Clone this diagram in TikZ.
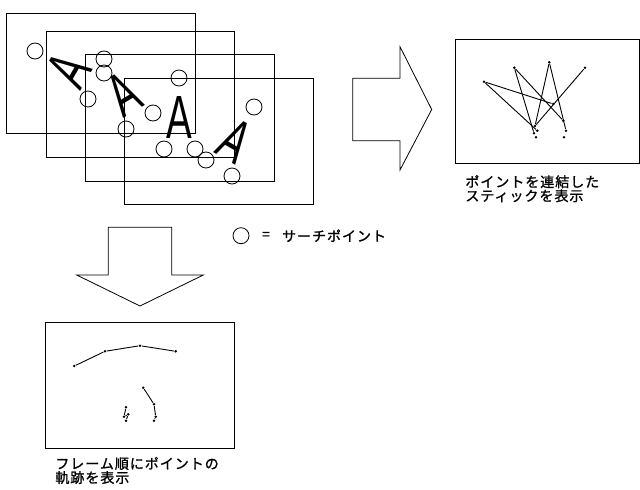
\documentclass[tikz,border=0pt]{standalone}
\usepackage{fontspec}
\newfontfamily\jpfont[LetterSpace=7, FakeBold=1.2]{Noto Sans CJK JP}
\newfontfamily\letterfont{Liberation Sans}
\begin{document}
\begin{tikzpicture}[x=1pt, y=-1pt, line width=0.8pt, line join=miter,
  searchpt/.style={draw, circle, minimum size=16pt, inner sep=0pt},
  letterA/.style={inner sep=0pt, xscale=0.63, font=\letterfont\fontsize{61}{61}\selectfont},
  joint/.style={fill, circle, inner sep=0pt, minimum size=2.8pt},
  stick/.style={line width=0.9pt},
  caption/.style={font=\jpfont\fontsize{14}{14}\selectfont, align=left, inner sep=0pt}]
\useasboundingbox (0,0) rectangle (640,490);
% frames
\draw (6,13) rectangle (195,133);
\draw (46,31) rectangle (234,157);
\draw (85,54) rectangle (274,181);
\draw (124,78) rectangle (313,204);
% letters
\node[rotate=60, letterA] (A1) at (69.2,70.4) {A};
\node[rotate=31, letterA] (A2) at (123.8,93.8) {A};
\node[letterA] (A3) at (179.5,118) {A};
\node[rotate=-30, letterA] (A4) at (234.6,141) {A};
% search points
\node[searchpt] (s1) at (35,51) {};
\node[searchpt] (s2) at (104,59) {};
\node[searchpt] (s3) at (104,73) {};
\node[searchpt] (s4) at (88,99) {};
\node[searchpt] (s5) at (179,78) {};
\node[searchpt] (s6) at (153,113) {};
\node[searchpt] (s7) at (126,129) {};
\node[searchpt] (s8) at (254,107) {};
\node[searchpt] (s9) at (164,149) {};
\node[searchpt] (s10) at (195,149) {};
\node[searchpt] (s11) at (206,160) {};
\node[searchpt] (s12) at (232,176) {};
% arrow right
\draw (352.7,78.3) -- (400,78.3) -- (400,46.7) -- (431.7,109.5) -- (400,170)
  -- (400,140.7) -- (352.7,140.7) -- cycle;
% arrow down
\draw (108.3,227.3) -- (171.7,227.3) -- (171.7,275) -- (203.3,275) -- (140,306)
  -- (76.7,275) -- (108.3,275) -- cycle;
% stick box
\draw (455,39.5) rectangle (639.5,163.5);
\node[joint] (a) at (484,81.7) {};
\node[joint] (b) at (514.3,67.7) {};
\node[joint] (c) at (549.3,62.3) {};
\node[joint] (d) at (585,67.7) {};
\node[joint] (e) at (553.3,104) {};
\node[joint] (l1) at (535,126) {};
\node[joint] (l2) at (537.3,130.7) {};
\node[joint] (l3) at (534,133.3) {};
\node[joint] (l4) at (536,137.3) {};
\node[joint] (r1) at (563.3,120.7) {};
\node[joint] (r2) at (566,130.7) {};
\node[joint] (r3) at (564,137.3) {};
\draw[stick] (a) -- (e);
\draw[stick] (a) -- (l2);
\draw[stick] (b) -- (l3);
\draw[stick] (b) -- (r1);
\draw[stick] (c) -- (l1);
\draw[stick] (c) -- (r2);
\draw[stick] (d) -- (l1);
\node[caption, anchor=west] (cap1) at (465,188.7) {ポイントを連結した\\スティックを表示};
% trace box
\draw (45.7,322.7) rectangle (234,448);
\node[joint] (t1) at (74.3,366) {};
\node[joint] (t2) at (105,351.3) {};
\node[joint] (t3) at (140,345.7) {};
\node[joint] (t4) at (175.7,351.3) {};
\node[joint] (u1) at (143.3,387.7) {};
\node[joint] (u2) at (154,404.3) {};
\node[joint] (u3) at (155.7,416.7) {};
\node[joint] (u4) at (154,420.7) {};
\node[joint] (v1) at (126,407.3) {};
\node[joint] (v2) at (124,416.7) {};
\node[joint] (v3) at (128.3,414.3) {};
\node[joint] (v4) at (126,420.7) {};
\draw[stick] (t1) -- (t2) -- (t3) -- (t4);
\draw[stick] (u1) -- (u2) -- (u3) -- (u4);
\draw[stick] (v1) -- (v2) -- (v3) -- (v4);
\node[caption, anchor=west] (cap2) at (55,470.5) {フレーム順にポイントの\\軌跡を表示};
% legend
\node[searchpt] (key) at (241,235.7) {};
\node[caption] (eq) at (266,235.7) {=};
\node[caption, anchor=west] (keytext) at (281.7,235.7) {サーチポイント};
\end{tikzpicture}
\end{document}
